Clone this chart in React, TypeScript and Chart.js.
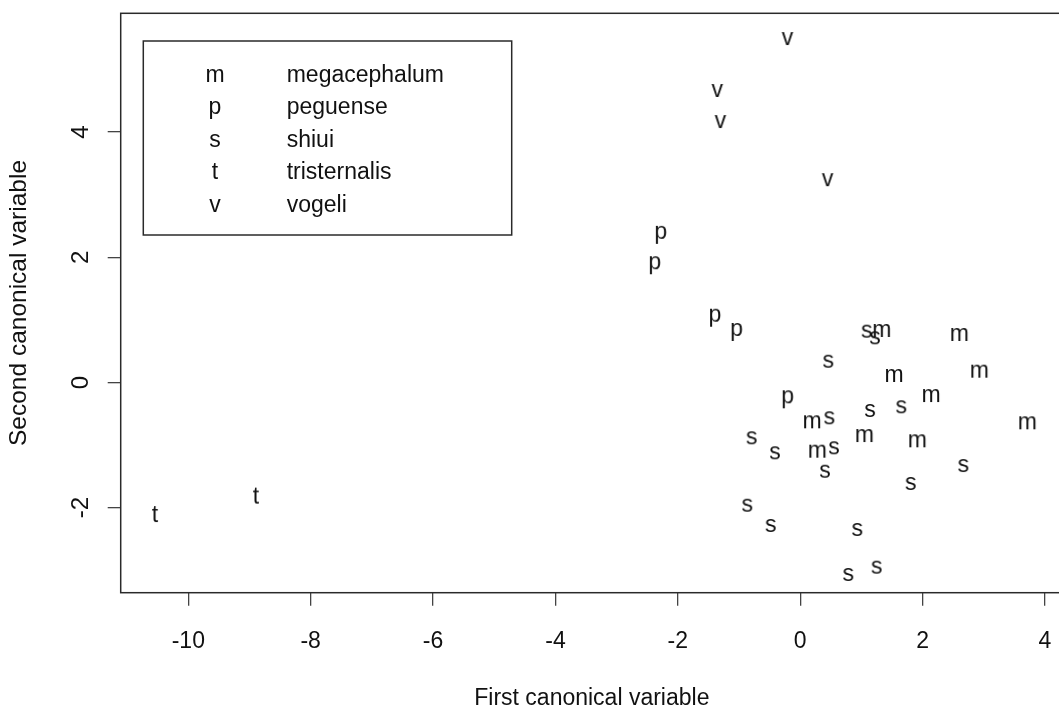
import React, { useEffect, useRef } from "react";
import { Chart, registerables } from "chart.js";

Chart.register(...registerables);

const FONT = '"Liberation Sans", Arial, Helvetica, sans-serif';

// Species codes and names (legend)
const speciesCodes = ["m", "p", "s", "t", "v"];
const speciesNames = ["megacephalum", "peguense", "shiui", "tristernalis", "vogeli"];

// megacephalum (m)
const mX = [1.332, 2.6, 1.533, 2.927, 2.138, 0.193, 3.711, 0.279, 1.048, 1.914];
const mY = [0.823, 0.759, 0.104, 0.173, -0.216, -0.636, -0.652, -1.105, -0.855, -0.939];
// peguense (p)
const pX = [-2.277, -2.376, -1.392, -1.038, -0.204];
const pY = [2.391, 1.906, 1.067, 0.839, -0.236];
// shiui (s)
const sX = [1.087, 1.222, 0.459, 1.141, 1.652, 0.476, -0.793, -0.412, 0.552, 0.405, 2.666, 1.806, -0.865, -0.482, 0.933, 1.25, 0.786];
const sY = [0.812, 0.706, 0.332, -0.455, -0.396, -0.572, -0.891, -1.131, -1.051, -1.425, -1.334, -1.621, -1.968, -2.292, -2.356, -2.958, -3.075];
// tristernalis (t)
const tX = [-10.544, -8.894];
const tY = [-2.133, -1.839];
// vogeli (v)
const vX = [-0.208, -1.355, -1.304, 0.448];
const vY = [5.487, 4.657, 4.161, 3.232];

const xTickValues = [-10, -8, -6, -4, -2, 0, 2, 4];
const yTickValues = [-2, 0, 2, 4];
const xLimits = [-11.105, 4.295];
const yLimits = [-3.358, 5.898];

const xTitle = "First canonical variable";
const yTitle = "Second canonical variable";

function letterImage(ch: string): HTMLCanvasElement {
  const c = document.createElement("canvas");
  c.width = 40;
  c.height = 40;
  const g = c.getContext("2d")!;
  g.font = `23px ${FONT}`;
  g.fillStyle = "#111";
  g.textAlign = "center";
  g.textBaseline = "alphabetic";
  g.fillText(ch, 20, 26);
  return c;
}

const rBoxPlugin = {
  id: "rBox",
  afterDraw(chart: any) {
    const { ctx, chartArea: a } = chart;
    ctx.save();
    ctx.strokeStyle = "#2a2a2a";
    ctx.lineWidth = 1.5;
    ctx.strokeRect(a.left, a.top, a.right - a.left, a.bottom - a.top);

    // legend box
    const lx = 143.3, ly = 41, lw = 368.4, lh = 194;
    ctx.fillStyle = "#fff";
    ctx.fillRect(lx, ly, lw, lh);
    ctx.strokeRect(lx, ly, lw, lh);
    ctx.font = `23px ${FONT}`;
    ctx.fillStyle = "#111";
    ctx.textBaseline = "alphabetic";
    speciesCodes.forEach((code, i) => {
      const by = 81.7 + i * 32.5;
      ctx.textAlign = "center";
      ctx.fillText(code, 215, by);
      ctx.textAlign = "left";
      ctx.fillText(speciesNames[i], 286.7, by);
    });
    ctx.restore();
  },
};

function pts(xs: number[], ys: number[]) {
  return xs.map((x, i) => ({ x, y: ys[i] }));
}

function zeroPadding(scale: any) {
  scale.paddingTop = 0;
  scale.paddingBottom = 0;
  scale.paddingLeft = 0;
  scale.paddingRight = 0;
}

export default function App() {
  const ref = useRef<HTMLCanvasElement>(null);

  useEffect(() => {
    if (!ref.current) return;
    const seriesX = [mX, pX, sX, tX, vX];
    const seriesY = [mY, pY, sY, tY, vY];
    const datasets = speciesCodes.map((code, i) => ({
      label: speciesNames[i],
      data: pts(seriesX[i], seriesY[i]),
      pointStyle: letterImage(code),
      pointRadius: 3,
      showLine: false,
    }));

    const chart = new Chart(ref.current, {
      type: "scatter",
      data: { datasets },
      plugins: [rBoxPlugin],
      options: {
        animation: false,
        responsive: false,
        events: [],
        layout: { autoPadding: false, padding: { top: 13.3, left: 0, right: 0, bottom: 0 } },
        plugins: {
          legend: { display: false },
          tooltip: { enabled: false },
        },
        scales: {
          x: {
            type: "linear",
            min: xLimits[0],
            max: xLimits[1],
            afterBuildTicks: (scale: any) => {
              scale.ticks = xTickValues.map((v) => ({ value: v }));
            },
            afterFit: (scale: any) => {
              scale.height = 127.3;
              zeroPadding(scale);
            },
            border: { display: false },
            grid: {
              drawOnChartArea: false,
              drawTicks: true,
              tickLength: 13,
              color: "#444",
              lineWidth: 1.3,
            },
            ticks: {
              padding: 22,
              color: "#111",
              font: { family: FONT, size: 23 },
              maxRotation: 0,
              minRotation: 0,
              autoSkip: false,
            },
            title: {
              display: true,
              text: xTitle,
              color: "#111",
              font: { family: FONT, size: 23 },
              padding: { top: 0, bottom: 7.2 },
            },
          },
          y: {
            type: "linear",
            min: yLimits[0],
            max: yLimits[1],
            afterBuildTicks: (scale: any) => {
              scale.ticks = yTickValues.map((v) => ({ value: v }));
            },
            afterFit: (scale: any) => {
              scale.width = 120.7;
              zeroPadding(scale);
            },
            border: { display: false },
            grid: {
              drawOnChartArea: false,
              drawTicks: true,
              tickLength: 13,
              color: "#444",
              lineWidth: 1.3,
            },
            ticks: {
              padding: 16,
              color: "#111",
              font: { family: FONT, size: 24 },
              minRotation: 90,
              maxRotation: 90,
              crossAlign: "center",
              autoSkip: false,
            },
            title: {
              display: true,
              text: yTitle,
              color: "#111",
              font: { family: FONT, size: 24.5 },
              padding: { top: 4.5, bottom: 0 },
            },
          },
        },
      },
    } as any);
    return () => chart.destroy();
  }, []);

  return (
    <div
      style={{
        position: "fixed",
        left: 0,
        top: 0,
        width: 1059,
        height: 709,
        overflow: "hidden",
        background: "#fff",
      }}
    >
      <canvas
        ref={ref}
        width={1063}
        height={720}
        style={{ display: "block", width: 1063, height: 720 }}
      />
    </div>
  );
}
